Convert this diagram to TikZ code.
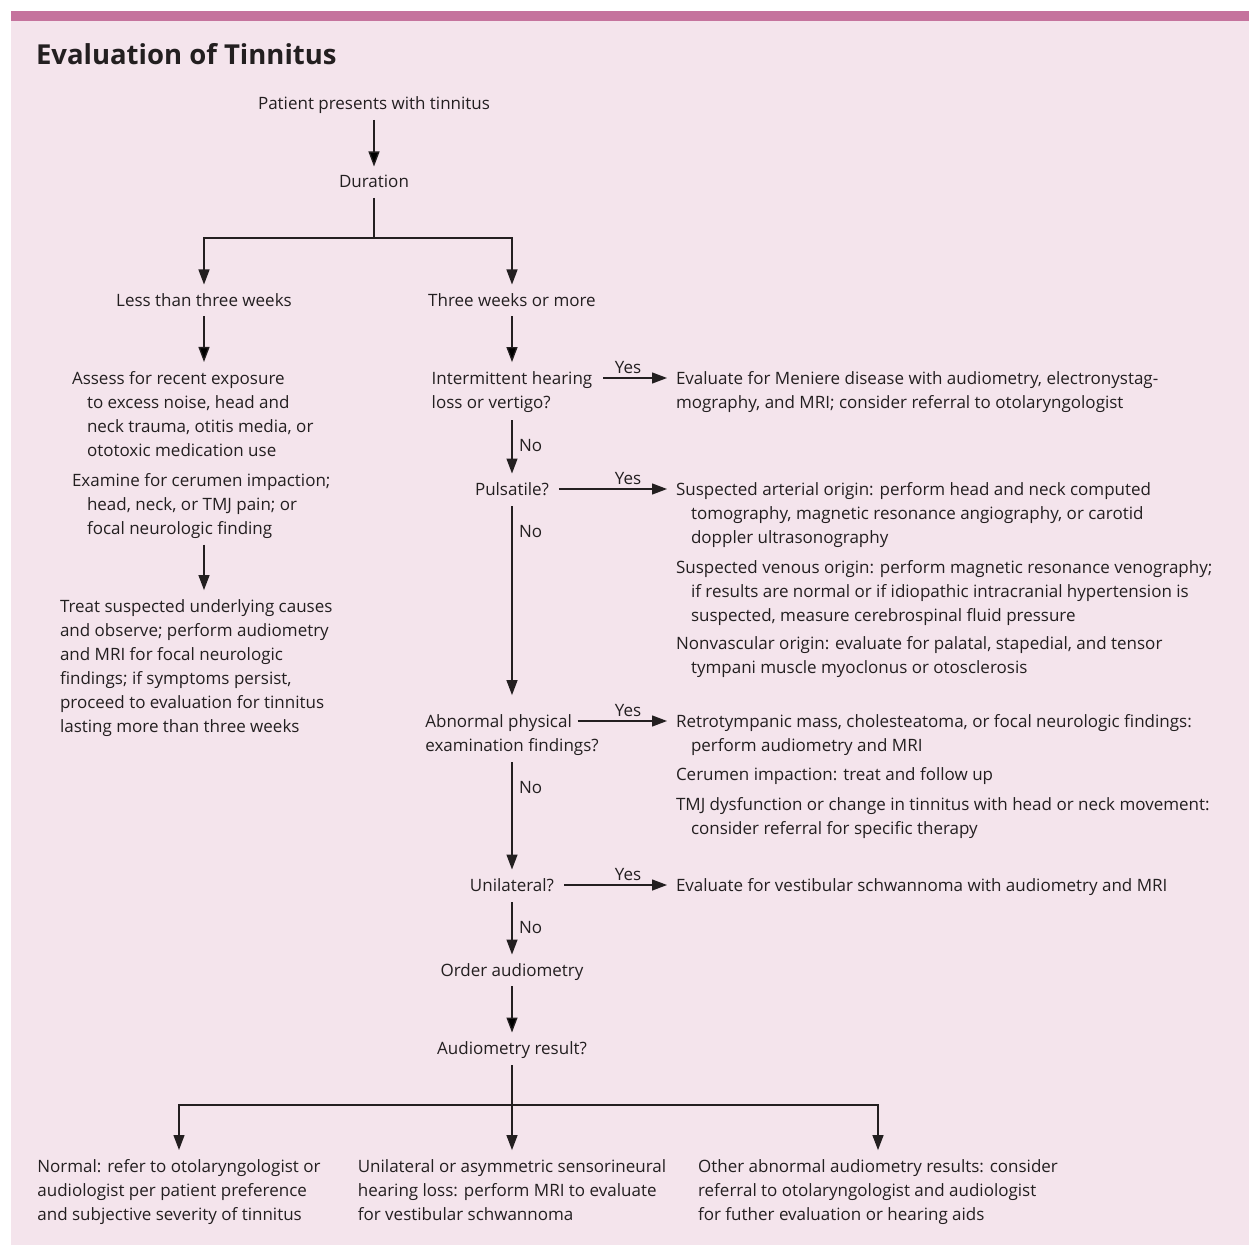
\documentclass[tikz,border=0pt]{standalone}
\usepackage{fontspec}
\setmainfont{Open Sans}
\usetikzlibrary{arrows.meta,calc}

\definecolor{ink}{HTML}{231F20}
\definecolor{barpink}{HTML}{C5739D}
\definecolor{panelpink}{HTML}{F4E4EC}
\newcommand{\hind}{\hspace*{15pt}}

\begin{document}
\begin{tikzpicture}[x=1pt, y=-1pt, >={Triangle[length=15pt,width=11pt]},
every node/.style = {inner sep=0pt, outer sep=0pt, text=ink, font=\fontsize{17}{24}\selectfont},
stepbox/.style = {anchor=base, text height=12.5pt, text depth=0pt},
quest/.style = {anchor=base, align=left},
answer/.style = {anchor=base west, align=left},
leaf/.style = {anchor=base, align=left},
line/.style = {draw=ink, line width=1.3pt},
flow/.style = {line, ->, shorten >=9pt},
yes/.style = {pos=1, anchor=base, xshift=-48pt, yshift=4.5pt},
no/.style = {pos=0, anchor=base west, xshift=7pt, yshift=-31pt},
                    ]
    \useasboundingbox (0,0) rectangle (1249,1246);
    \fill[panelpink] (11,21) rectangle (1249,1245);
    \fill[barpink] (11,11) rectangle (1249,21);
    \node[anchor=base west, font=\fontsize{27.5}{34}\selectfont\bfseries] (title) at (36,65) {Evaluation of Tinnitus};

    %main column (multi-line nodes sit on their last line)
    \node[stepbox] (start) at (374,110) {Patient presents with tinnitus};
    \node[stepbox] (dur) at (374,188) {Duration};
    \node[stepbox] (less) at (204,306) {Less than three weeks};
    \node[stepbox] (more) at (512,306) {Three weeks or more};
    \node[quest] (hear) at (512,408) {Intermittent hearing\\loss or vertigo?};
    \node[stepbox] (pulse) at (512,495) {Pulsatile?};
    \node[quest] (exam) at (512,751) {Abnormal physical\\examination findings?};
    \node[stepbox] (uni) at (512,891) {Unilateral?};
    \node[stepbox] (order) at (512,976) {Order audiometry};
    \node[stepbox] (result) at (512,1054) {Audiometry result?};

    %left column
    \node[answer] (assess) at (72,456) {Assess for recent exposure\\ \hind to excess noise, head and\\ \hind neck trauma, otitis media, or\\ \hind ototoxic medication use};
    \node[answer] (examine) at (72,534) {Examine for cerumen impaction;\\ \hind head, neck, or TMJ pain; or\\ \hind focal neurologic finding};
    \node[answer] (treat) at (60,732) {Treat suspected underlying causes\\and observe; perform audiometry\\and MRI for focal neurologic\\findings; if symptoms persist,\\proceed to evaluation for tinnitus\\lasting more than three weeks};

    %right column
    \node[answer] (meniere) at (676,408) {Evaluate for Meniere disease with audiometry, electronystag-\\mography, and MRI; consider referral to otolaryngologist};
    \node[answer] (arterial) at (676,543) {Suspected arterial origin: perform head and neck computed\\ \hind tomography, magnetic resonance angiography, or carotid\\ \hind doppler ultrasonography};
    \node[answer] (venous) at (676,621) {Suspected venous origin: perform magnetic resonance venography;\\ \hind if results are normal or if idiopathic intracranial hypertension is\\ \hind suspected, measure cerebrospinal fluid pressure};
    \node[answer] (nonvasc) at (676,673) {Nonvascular origin: evaluate for palatal, stapedial, and tensor\\ \hind tympani muscle myoclonus or otosclerosis};
    \node[answer] (retro) at (676,751) {Retrotympanic mass, cholesteatoma, or focal neurologic findings:\\ \hind perform audiometry and MRI};
    \node[answer] (cerumen) at (676,780) {Cerumen impaction: treat and follow up};
    \node[answer] (tmj) at (676,834) {TMJ dysfunction or change in tinnitus with head or neck movement:\\ \hind consider referral for specific therapy};
    \node[answer] (schwann) at (676,891) {Evaluate for vestibular schwannoma with audiometry and MRI};

    %bottom row
    \node[leaf] (normal) at (179,1220) {Normal: refer to otolaryngologist or\\audiologist per patient preference\\and subjective severity of tinnitus};
    \node[leaf] (asym) at (512,1220) {Unilateral or asymmetric sensorineural\\hearing loss: perform MRI to evaluate\\for vestibular schwannoma};
    \node[leaf] (other) at (878,1220) {Other abnormal audiometry results: consider\\referral to otolaryngologist and audiologist\\for futher evaluation or hearing aids};

    \path[flow, shorten <=10pt]
                   (start)  edge (dur)
                   (more)   edge (hear)
                   (order)  edge (result)
                   (less)   edge (less |- assess.north)
                   ;
    \draw[flow, shorten <=6.5pt] (examine.south -| less) -- (treat.north -| less);

    \draw[line] ([yshift=-10pt]dur.south) -- ++(0,40) coordinate (split1);
    \draw[flow] (split1) -| (less);
    \draw[flow] (split1) -| (more);

    \draw[flow] ([yshift=-8pt]hear.south) -- node[no] {No} (pulse);
    \draw[flow, shorten >=19pt] ([yshift=-11pt]pulse.south) -- node[no] {No} (exam);
    \draw[flow] ([yshift=-7pt]exam.south) -- node[no] {No} (uni);
    \draw[flow] ([yshift=-11pt]uni.south) -- node[no] {No} (order);

    \coordinate (hearyes) at ([yshift=30pt]hear.base east);
    \coordinate (pulseyes) at ([yshift=6pt]pulse.base east);
    \coordinate (examyes) at ([xshift=-21pt,yshift=30pt]exam.base east);
    \coordinate (uniyes) at ([yshift=6pt]uni.base east);
    \draw[flow, shorten <=11pt] (hearyes) -- node[yes] {Yes} (hearyes -| meniere.west);
    \draw[flow, shorten <=10pt] (pulseyes) -- node[yes] {Yes} (pulseyes -| arterial.west);
    \draw[flow] (examyes) -- node[yes] {Yes} (examyes -| retro.west);
    \draw[flow, shorten <=10pt] (uniyes) -- node[yes] {Yes} (uniyes -| schwann.west);

    \draw[line] ([yshift=-11pt]result.south) -- ++(0,40) coordinate (split2);
    \draw[flow] (split2) -| (normal);
    \draw[flow] (split2) -- (asym);
    \draw[flow] (split2) -| (other);
\end{tikzpicture}
\end{document}
